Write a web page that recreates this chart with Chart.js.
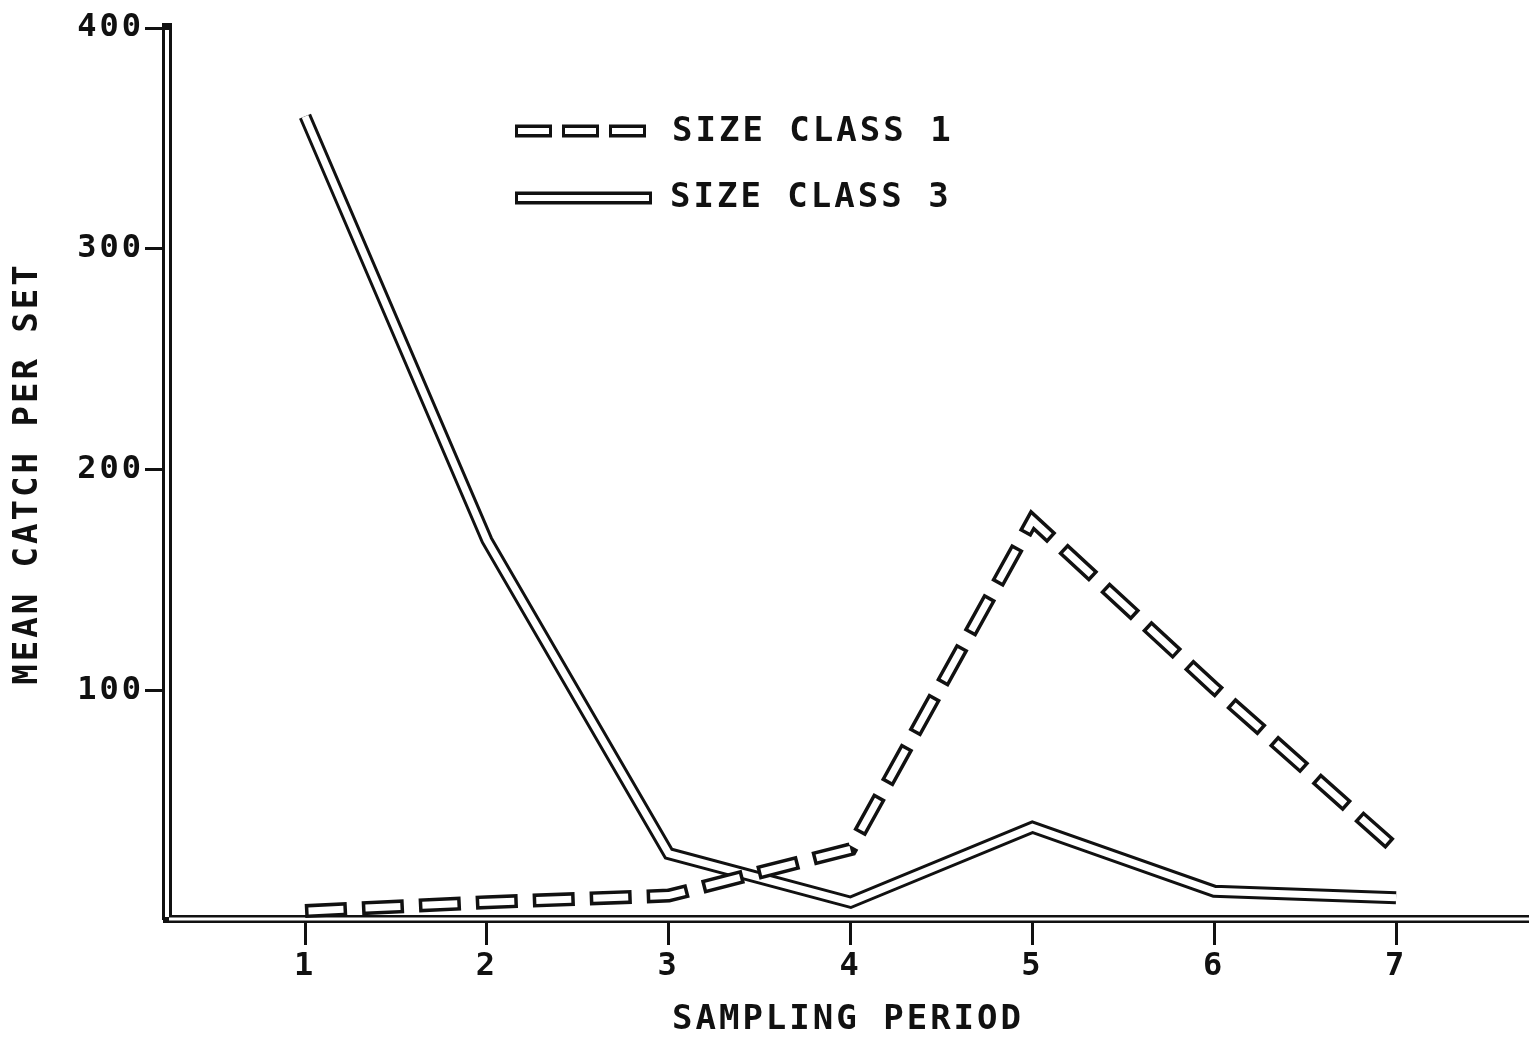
<!DOCTYPE html>
<html><head><meta charset="utf-8">
<script src="https://cdn.jsdelivr.net/npm/chart.js@4.4.1/dist/chart.umd.min.js"></script>
<style>html,body{margin:0;padding:0;background:#fff;overflow:hidden}#wrap{width:1529px;height:1038px}</style>
</head><body><div id="wrap"><canvas id="c" width="1529" height="1038"></canvas></div>
<script>
const periods = [1, 2, 3, 4, 5, 6, 7];
const sizeClass1 = [0, 4, 7, 28, 177, 101, 28];
const sizeClass3 = [360, 168, 26, 4, 38, 9, 6];
const xTickValues = [1, 2, 3, 4, 5, 6, 7];
const yTickValues = [100, 200, 300, 400];
const legendLabels = ['SIZE CLASS 1', 'SIZE CLASS 3'];
const xTitle = 'SAMPLING PERIOD';
const yTitle = 'MEAN CATCH PER SET';

const INK = '#111';
const FONT = 'DejaVu Sans Mono';
const pts = arr => periods.map((p, i) => ({x: p, y: arr[i]}));

const dashOuter = [42, 15], dashInner = [35, 22];

const datasets = [
  {data: pts(sizeClass3), borderColor: INK, borderWidth: 13, order: 4, borderJoinStyle: 'miter', borderCapStyle: 'butt'},
  {data: pts(sizeClass3), borderColor: '#fff', borderWidth: 7, order: 3, borderJoinStyle: 'miter', borderCapStyle: 'butt'},
  {data: pts(sizeClass1), borderColor: INK, borderWidth: 14, order: 2, borderDash: dashOuter, borderDashOffset: 0, borderJoinStyle: 'miter', borderCapStyle: 'butt'},
  {data: pts(sizeClass1), borderColor: '#fff', borderWidth: 7, order: 1, borderDash: dashInner, borderDashOffset: -3.5, borderJoinStyle: 'miter', borderCapStyle: 'butt'}
];

const styling = {
  id: 'styling',
  beforeDraw(chart) { chart.ctx.letterSpacing = '3px'; },
  beforeDatasetsDraw(chart) {
    const {ctx, chartArea: a} = chart;
    ctx.save();
    ctx.strokeStyle = '#fff';
    ctx.lineWidth = 3;
    ctx.beginPath();
    ctx.moveTo(a.left + 2, a.bottom);
    ctx.lineTo(a.right, a.bottom);
    ctx.stroke();
    ctx.lineWidth = 4;
    ctx.beginPath();
    ctx.moveTo(a.left, a.top + 2);
    ctx.lineTo(a.left, a.bottom - 2);
    ctx.stroke();
    ctx.restore();
  },
  afterDraw(chart) {
    const ctx = chart.ctx;
    ctx.save();
    ctx.lineCap = 'butt';
    // dashed sample
    ctx.beginPath(); ctx.moveTo(515, 131); ctx.lineTo(652, 131);
    ctx.strokeStyle = INK; ctx.lineWidth = 13; ctx.setLineDash([37, 10]); ctx.lineDashOffset = 0; ctx.stroke();
    ctx.beginPath(); ctx.moveTo(515, 131); ctx.lineTo(652, 131);
    ctx.strokeStyle = '#fff'; ctx.lineWidth = 6; ctx.setLineDash([31, 16]); ctx.lineDashOffset = -3; ctx.stroke();
    // solid sample
    ctx.setLineDash([]);
    ctx.beginPath(); ctx.moveTo(515, 198); ctx.lineTo(652, 198);
    ctx.strokeStyle = INK; ctx.lineWidth = 13; ctx.stroke();
    ctx.beginPath(); ctx.moveTo(518, 198); ctx.lineTo(649, 198);
    ctx.strokeStyle = '#fff'; ctx.lineWidth = 6; ctx.stroke();
    ctx.fillStyle = INK;
    ctx.font = 'bold 34px "' + FONT + '"';
    ctx.letterSpacing = '3px';
    ctx.textAlign = 'left';
    ctx.textBaseline = 'middle';
    ctx.fillText(legendLabels[0], 672, 132);
    ctx.fillText(legendLabels[1], 670, 198);
    ctx.restore();
  }
};

new Chart(document.getElementById('c'), {
  type: 'line',
  data: {datasets},
  plugins: [styling],
  options: {
    animation: false, responsive: false, devicePixelRatio: 1,
    layout: {padding: {top: 28, right: 0, left: 0, bottom: 0}},
    plugins: {legend: {display: false}, tooltip: {enabled: false}},
    elements: {point: {radius: 0}, line: {tension: 0}},
    scales: {
      x: {
        type: 'linear', min: 0.241, max: 7.731,
        afterBuildTicks: s => { s.ticks = xTickValues.map(v => ({value: v})); },
        afterFit: s => { s.height = 119; },
        grid: {display: true, drawOnChartArea: false, drawTicks: true, tickLength: 26, tickWidth: 3, tickColor: INK},
        border: {display: true, color: INK, width: 8},
        ticks: {color: INK, font: {family: FONT, weight: 'bold', size: 32}, padding: 2, maxRotation: 0, autoSkip: false},
        title: {display: true, text: xTitle, color: INK, font: {family: FONT, weight: 'bold', size: 34, lineHeight: 1}, padding: {top: 0, bottom: 1}}
      },
      y: {
        min: -3.6, max: 400,
        afterBuildTicks: s => { s.ticks = yTickValues.map(v => ({value: v})); },
        afterFit: s => { s.width = 167; },
        grid: {display: true, drawOnChartArea: false, drawTicks: true, tickLength: 22, tickWidth: 3, tickColor: INK},
        border: {display: true, color: INK, width: 10},
        ticks: {color: INK, font: {family: FONT, weight: 'bold', size: 32}, padding: 1},
        title: {display: true, text: yTitle, color: INK, font: {family: FONT, weight: 'bold', size: 34, lineHeight: 1}, padding: {top: 11, bottom: 0}}
      }
    }
  }
});
</script></body></html>
